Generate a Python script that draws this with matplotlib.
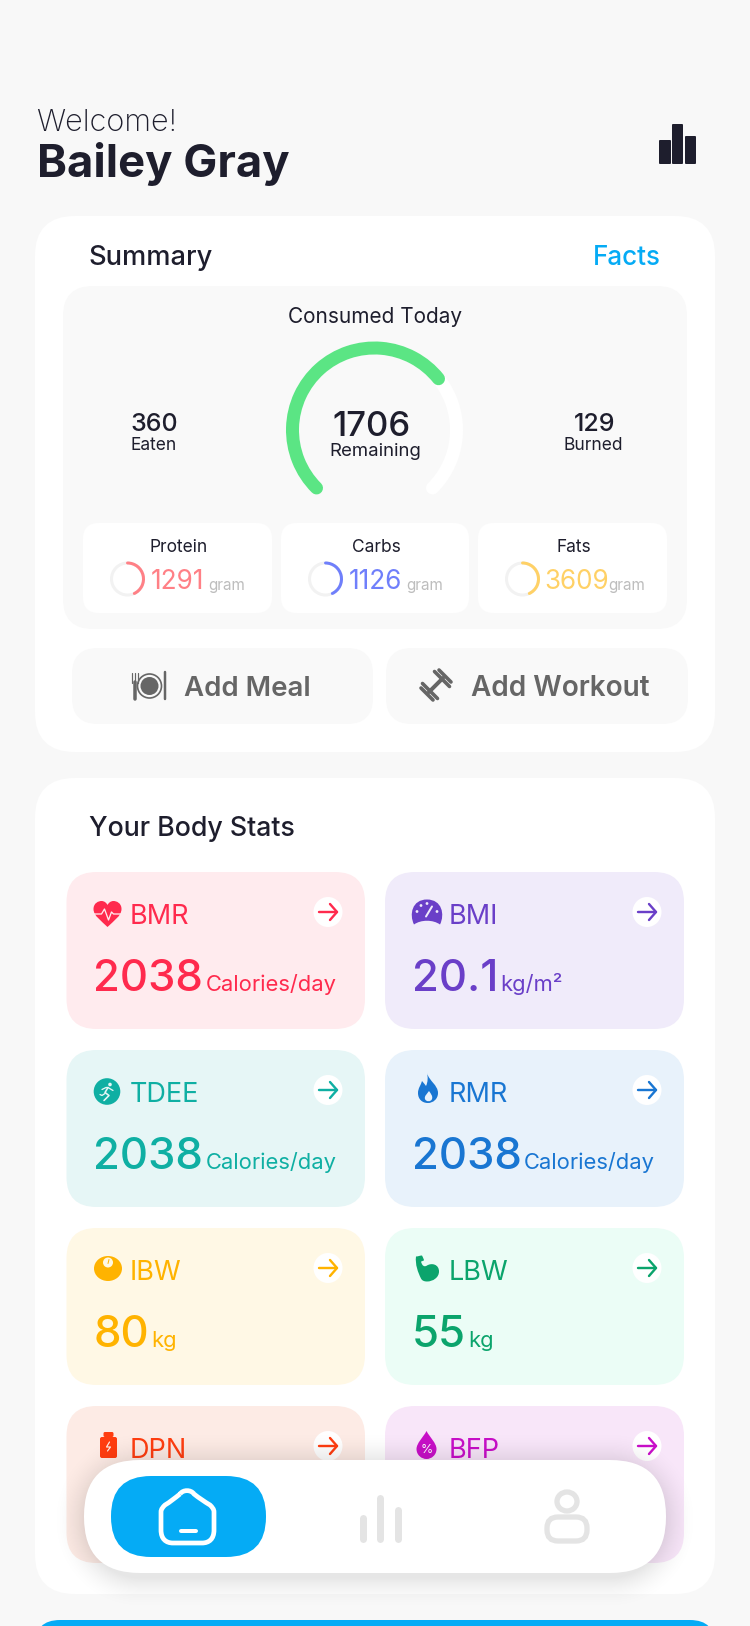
import numpy as np
import matplotlib
matplotlib.use("Agg")
import matplotlib.pyplot as plt
from matplotlib.patches import FancyBboxPatch, Circle, Ellipse, PathPatch, Arc
from matplotlib.path import Path

plt.rcParams['font.family'] = ['Inter', 'DejaVu Sans']

DARK = '#1E1E2D'
BLUE = '#05ABF5'
GREY = '#666666'
LIGHT = '#E4E4E4'

user_name = "Bailey Gray"
eaten = 360
burned = 129
remaining = 1706
gauge_fraction = 0.69

macro_names = ["Protein", "Carbs", "Fats"]
macro_values = [1291, 1126, 3609]
macro_fractions = [0.43, 0.43, 0.43]
macro_colors = ['#FF8086', '#6F7FFB', '#FFD166']

stat_names = ["BMR", "BMI", "TDEE", "RMR", "IBW", "LBW", "DPN", "BFP"]
stat_values = ["2038", "20.1", "2038", "2038", "80", "55", "", ""]
stat_units = ["Calories/day", "kg/m²", "Calories/day", "Calories/day", "kg", "kg", "", ""]
stat_bg = ['#FFEBEE', '#F0EBFA', '#E6F6F6', '#E8F2FB', '#FFF8E5', '#EBFDF6', '#FDEBE5', '#F8E6F9']
stat_fg = ['#FF2A4D', '#6A3FC8', '#0FAFA3', '#1976D2', '#FFB300', '#0BA46C', '#FF3D10', '#C80FC8']

fig = plt.figure(figsize=(7.5, 16.26), dpi=100, facecolor='#F8F8F8')
ax = fig.add_axes([0, 0, 1, 1])
ax.axis('off')
renderer = fig.canvas.get_renderer()


def box(x0, y0, x1, y1, r, color, z=1, alpha=None, edge='none', lw=0):
    p = FancyBboxPatch((x0, y0), x1 - x0, y1 - y0, boxstyle=f"round,pad=0,rounding_size={r}",
                       fc=color, ec=edge, lw=lw, zorder=z, alpha=alpha)
    ax.add_patch(p)
    return p


def put(x, y, s, size, color=DARK, weight='normal', ha='left', z=5):
    return ax.text(x, y, s, fontsize=size, color=color, fontweight=weight, ha=ha, va='baseline', zorder=z)


def fit(x0, x1, y, s, color=DARK, weight='normal', z=5):
    # scale the font until the text runs from x0 to x1
    t = put(x0, y, s, 20, color, weight, z=z)
    w = t.get_window_extent(renderer).width
    t.set_fontsize(20 * (x1 - x0) / w)
    return t


def right_end(t):
    return ax.transData.inverted().transform(t.get_window_extent(renderer))[1][0]


def shape(cx, cy, codes_pts, color, z=6):
    # codes_pts: start point and then groups of three bezier points
    verts = [(cx + a, cy + b) for a, b in codes_pts]
    codes = [Path.MOVETO] + [Path.CURVE4] * (len(verts) - 1)
    ax.add_patch(PathPatch(Path(verts, codes), fc=color, ec='none', zorder=z))


def line(xs, ys, color, width, z=7, cap='round'):
    ax.plot(xs, ys, color=color, lw=width * 0.72, solid_capstyle=cap, solid_joinstyle='round', zorder=z)


def ring(cx, cy, r, width, start, sweep, color, z=4):
    ax.add_patch(Arc((cx, cy), 2 * r, 2 * r, theta1=start, theta2=start + sweep, color=color,
                     lw=width * 0.72, capstyle='round', zorder=z))


def soft_shadow(x0, y0, x1, y1, r, spread, strength, z=8):
    # alpha falls off with the distance from a rounded box
    xs = np.arange(x0 - spread, x1 + spread)
    ys = np.arange(y0 - spread, y1 + spread)
    gx, gy = np.meshgrid(xs + 0.5, ys + 0.5)
    qx = np.abs(gx - (x0 + x1) / 2) - ((x1 - x0) / 2 - r)
    qy = np.abs(gy - (y0 + y1) / 2) - ((y1 - y0) / 2 - r)
    dist = np.hypot(np.maximum(qx, 0), np.maximum(qy, 0)) + np.minimum(np.maximum(qx, qy), 0) - r
    img = np.zeros(gx.shape + (4,))
    img[..., 3] = strength * np.clip(1 - dist / spread, 0, 1) ** 2
    ax.imshow(img, extent=(xs[0], xs[-1] + 1, ys[-1] + 1, ys[0]), aspect='auto', zorder=z, interpolation='bilinear')


def icon_heart(cx, cy, c, bg):
    shape(cx, cy, [(0, 13), (-6, 7), (-14, 2), (-14, -5), (-14, -11), (-9, -13), (-6, -13), (-3, -13), (-1, -11), (0, -9),
                   (1, -11), (3, -13), (6, -13), (9, -13), (14, -11), (14, -5), (14, 2), (6, 7), (0, 13)], c)
    line([cx - 13, cx - 6, cx - 3, cx + 1, cx + 4, cx + 6, cx + 13],
         [cy, cy, cy - 5, cy + 6, cy - 2, cy, cy], bg, 1.3)


def icon_gauge(cx, cy, c, bg):
    shape(cx, cy, [(-13, 12), (-18, 2), (-15, -13), (0, -13), (15, -13), (18, 2), (13, 12), (6, 7), (-6, 7), (-13, 12)], c)
    for dx, dy in [(-10, -1), (-6, -7), (0, -9), (10, -1)]:
        ax.add_patch(Circle((cx + dx, cy + dy), 1.4, fc=bg, ec='none', zorder=7))
    line([cx - 1, cx + 5], [cy + 4, cy - 6], bg, 2)


def icon_runner(cx, cy, c, bg):
    ax.add_patch(Circle((cx, cy), 13.3, fc=c, ec='none', zorder=6))
    ax.add_patch(Circle((cx + 3, cy - 7), 1.8, fc=bg, ec='none', zorder=7))
    line([cx + 1, cx - 2, cx + 2, cx - 3], [cy - 4, cy + 1, cy + 4, cy + 9], bg, 1.6)
    line([cx - 5, cx - 1, cx + 1, cx + 6], [cy - 2, cy - 4, cy - 4, cy - 1], bg, 1.3)
    line([cx - 2, cx - 5, cx - 7], [cy + 2, cy + 4, cy + 3], bg, 1.3)


def icon_flame(cx, cy, c, bg):
    shape(cx, cy, [(-1, -15), (1, -7), (10, -3), (10, 5), (10, 11), (5, 15), (0, 15), (-6, 15), (-10, 11), (-10, 5),
                   (-10, 0), (-7, -3), (-6, -7), (-4, -5), (-3, -3), (-2, -2), (0, -6), (0, -11), (-1, -15)], c)
    shape(cx, cy, [(1, 3), (3, 6), (5, 8), (4, 11), (3, 14), (-2, 14), (-3, 11), (-4, 8), (-1, 6), (1, 3)], bg, z=7)


def icon_scale(cx, cy, c, bg):
    ax.add_patch(Ellipse((cx, cy), 28, 25, fc=c, ec='none', zorder=6))
    ax.add_patch(Circle((cx, cy - 6), 5, fc=bg, ec='none', zorder=7))
    line([cx, cx + 1], [cy - 5, cy - 9], c, 1)


def icon_arm(cx, cy, c, bg):
    shape(cx, cy, [(-11, -12), (-9, -12), (-7, -13), (-5, -13), (-4, -11), (-3, -9), (-3, -8), (-4, -8), (-5, -7), (-6, -7),
                   (-5, -3), (-3, -1), (0, -3), (5, -6), (12, -4), (12, 3), (12, 9), (6, 13), (0, 13), (-3, 13), (-5, 12),
                   (-6, 10), (-9, 4), (-12, -4), (-11, -12)], c)


def icon_bottle(cx, cy, c, bg):
    box(cx - 5, cy - 13, cx + 5, cy - 8, 1.5, c, z=6)
    box(cx - 8.5, cy - 8, cx + 8.5, cy + 13, 2, c, z=6)
    line([cx + 1, cx - 2, cx + 2, cx - 1], [cy - 3, cy + 2, cy + 2, cy + 6], bg, 1.2)


def icon_drop(cx, cy, c, bg):
    shape(cx, cy, [(0, -14), (3, -8), (10, -2), (10, 4), (10, 10), (5, 14), (0, 14), (-5, 14), (-10, 10), (-10, 4),
                   (-10, -2), (-3, -8), (0, -14)], c)
    ax.text(cx, cy + 8, "%", fontsize=9, color='white', ha='center', va='baseline', zorder=7)


stat_icons = [icon_heart, icon_gauge, icon_runner, icon_flame, icon_scale, icon_arm, icon_bottle, icon_drop]
icon_dx = [41, 42, 40.5, 43, 41.5, 42, 42, 41.5]
icon_dy = [42, 40.5, 41.5, 38, 40.5, 40.5, 39, 39]

# navigation pill shadow goes first because imshow resets the limits
soft_shadow(84, 1463, 666, 1578, 56, 34, 0.10)
ax.set_xlim(0, 750)
ax.set_ylim(1626, 0)

# header
fit(36, 177, 131, "Welcome!", DARK, 'light')
fit(37, 290, 177, user_name, DARK, 'bold')
for x0, x1, top in [(659, 671, 140), (672, 683, 124), (685, 696, 136)]:
    box(x0, top, x1, 164, 1, DARK, z=2)

# summary card
box(35, 216, 715, 752, 40, 'white')
fit(88, 212, 265, "Summary", DARK, 'medium')
fit(593, 661, 265, "Facts", BLUE, 'medium')
box(63, 286, 687, 629, 30, '#F9F9F9', z=2)
fit(288, 462, 323, "Consumed Today")

ring(374.5, 430, 82, 13, 135, 270, 'white')
ring(374.5, 430, 82, 13, 135, 270 * gauge_fraction, '#5BE584', z=4.5)
put(154, 431, str(eaten), 18, ha='center', weight='medium')
put(154, 450, "Eaten", 12.5, ha='center')
put(372, 436, str(remaining), 25, ha='center', weight='medium')
put(375, 456, "Remaining", 13.4, ha='center')
put(595, 431, str(burned), 18, ha='center', weight='medium')
put(593, 450, "Burned", 12.5, ha='center')

# macro cards
macro_cards = [(83, 272), (281, 469), (478, 667)]
macro_num_dx = [68, 68, 66]
macro_gap = [4, 4, 0]
for i, name in enumerate(macro_names):
    x0, x1 = macro_cards[i]
    box(x0, 523, x1, 613, 16, 'white', z=3)
    mid = (x0 + x1) / 2 + 1
    put(mid, 552, name, 12.5, ha='center')
    cx = x0 + 44.5
    ring(cx, 579, 16, 3, 0, 360, '#F2F2F2')
    ring(cx, 579, 16, 3, -90, 360 * macro_fractions[i], macro_colors[i], z=4.5)
    t = put(x0 + macro_num_dx[i], 589, str(macro_values[i]), 18.8, macro_colors[i])
    put(right_end(t) + macro_gap[i], 590, "gram", 11, '#BDBDBD')

# buttons
box(72, 648, 373, 724, 26, '#F9F9F9', z=2)
box(386, 648, 688, 724, 26, '#F9F9F9', z=2)
fit(184, 311, 696, "Add Meal", GREY, 'semibold')
fit(471, 650, 696, "Add Workout", GREY, 'semibold')

# meal icon
ax.add_patch(Circle((149.5, 686), 12, fc='none', ec=GREY, lw=1.2, zorder=5))
ax.add_patch(Circle((149.5, 686), 9, fc=GREY, ec='none', zorder=5))
line([135, 135], [682, 699], GREY, 3.5, z=5)
for dx in [-3, 0, 3]:
    line([135 + dx, 135 + dx], [673, 683], GREY, 1.2, z=5)
line([164.5, 164.5], [672, 699], GREY, 2.5, z=5)

# dumbbell icon
line([429, 443], [692, 678], GREY, 4, z=5)
for off, half in [(-12, 8), (-8, 10), (8, 10), (12, 8)]:
    mx, my = 436 + off * 0.75, 685 - off * 0.75
    line([mx - half * 0.75, mx + half * 0.75], [my - half * 0.75, my + half * 0.75], GREY, 3.6, z=5)

# body stats card
box(35, 778, 715, 1594, 40, 'white')
fit(89, 295, 836, "Your Body Stats", DARK, 'medium')

col_x = [(66.5, 365), (385, 684)]
row_y = [(872, 1029), (1050, 1207), (1228, 1385), (1406, 1563)]
for i, name in enumerate(stat_names):
    x0, x1 = col_x[i % 2]
    y0, y1 = row_y[i // 2]
    fg, bg = stat_fg[i], stat_bg[i]
    box(x0, y0, x1, y1, 30, bg, z=2)
    stat_icons[i](x0 + icon_dx[i], y0 + icon_dy[i], fg, bg)
    put(x0 + 63.5, y0 + 52, name, 19.5, fg)
    ax.add_patch(Ellipse((x1 - 37, y0 + 40), 29, 30, fc='white', ec='none', zorder=4))
    ax_x = x1 - 37
    line([ax_x - 9, ax_x + 9], [y0 + 40, y0 + 40], fg, 2.4)
    line([ax_x + 2, ax_x + 9, ax_x + 2], [y0 + 32, y0 + 40, y0 + 48], fg, 2.4)
    if stat_values[i]:
        t = put(x0 + 27, y0 + 119, stat_values[i], 31.5, fg, 'medium')
        put(right_end(t) + 2, y0 + 119, stat_units[i], 15.8, fg)

# bottom bar peeking in
box(35, 1620, 715, 1660, 25, BLUE)

# navigation pill
box(84, 1460, 666, 1573, 56, 'white', z=9)
box(111, 1476, 266, 1557, 40, BLUE, z=10)

# home icon
home = [(180, 1494), (183, 1489.5), (191, 1489.5), (194, 1494),
        (199, 1498), (205, 1502), (210, 1505),
        (212, 1507), (214, 1509), (214, 1512),
        (214, 1518), (214, 1524), (214, 1530),
        (214, 1539), (209, 1543), (202, 1543),
        (192, 1543), (182, 1543), (173, 1543),
        (166, 1543), (161, 1539), (161, 1530),
        (161, 1524), (161, 1518), (161, 1512),
        (161, 1509), (163, 1507), (165, 1505),
        (170, 1502), (175, 1498), (180, 1494)]
ax.add_patch(PathPatch(Path(home, [Path.MOVETO] + [Path.CURVE4] * (len(home) - 1)), fc='none', ec='white', lw=3.4, zorder=11))
line([181, 196], [1530.5, 1530.5], 'white', 4, z=11)

# stats and profile icons
for x, top in [(362.5, 1515), (380, 1495), (397.5, 1507)]:
    line([x, x], [top + 3, 1539], LIGHT, 7, z=10)
ax.add_patch(Ellipse((567, 1501.5), 20, 19, fc='none', ec=LIGHT, lw=3.8, zorder=10))
box(547, 1517, 587, 1541, 11, 'none', z=10, edge=LIGHT, lw=3.8)

fig.savefig("out.png", dpi=100, facecolor=fig.get_facecolor())
